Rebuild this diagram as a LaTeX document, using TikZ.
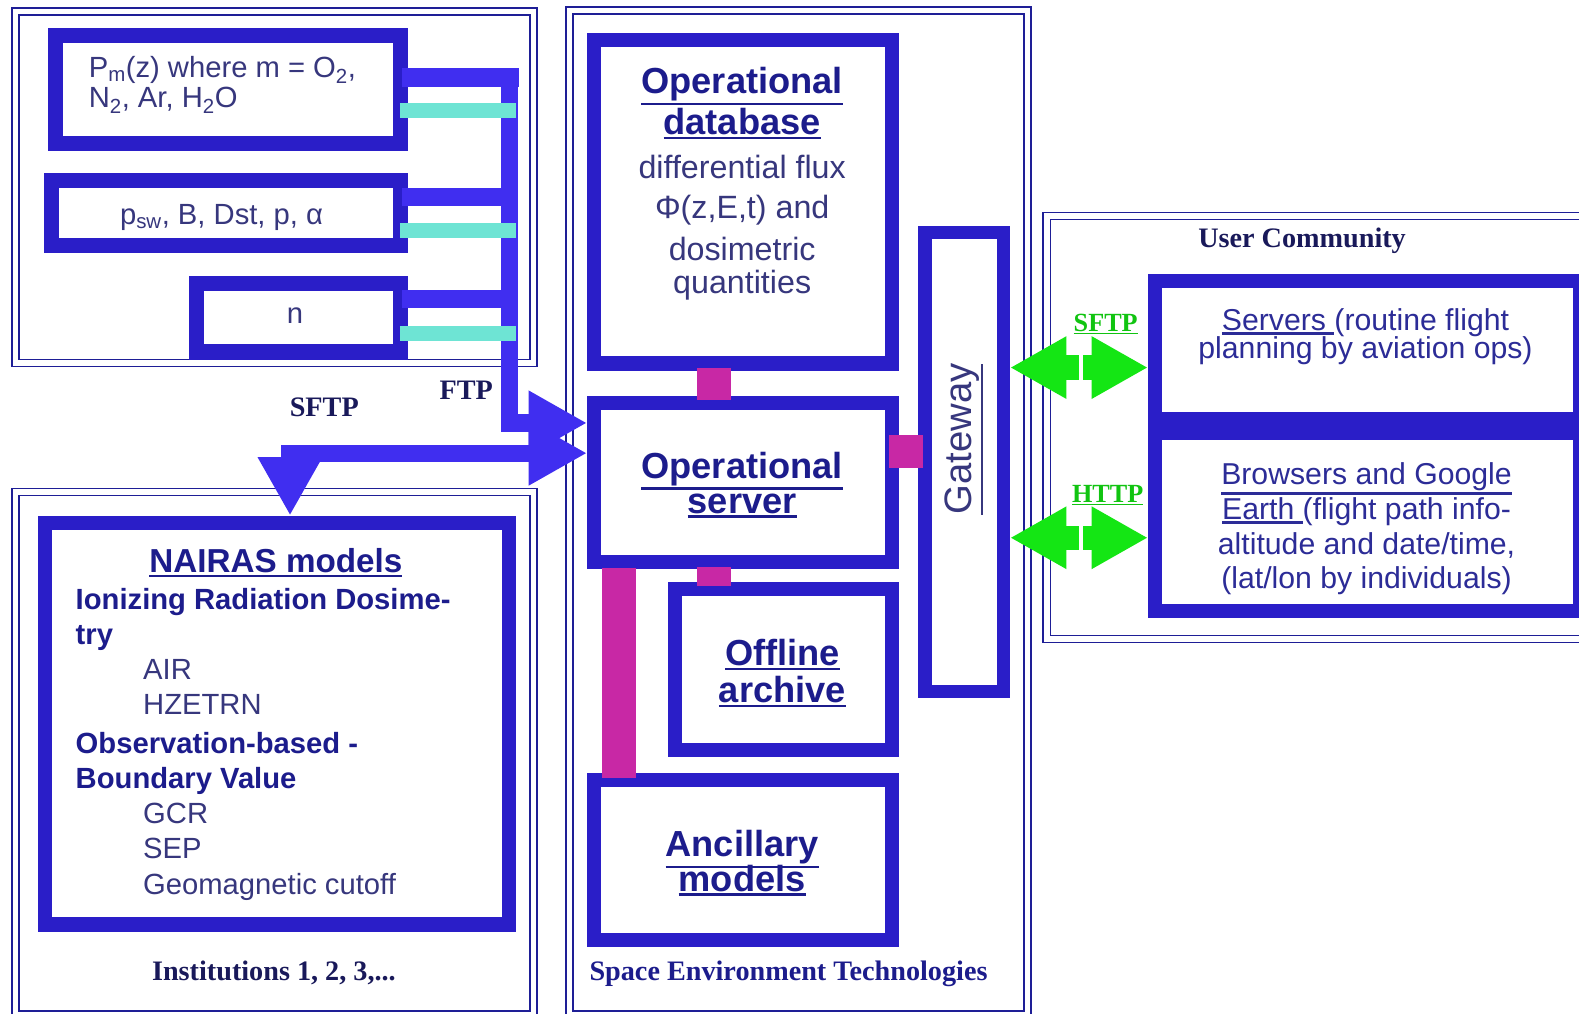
\documentclass[tikz,border=0pt]{standalone}
\usepackage{fontspec}
\setmainfont{Liberation Serif}
\newfontfamily\arial{Liberation Sans}
\usetikzlibrary{arrows.meta,calc}

\definecolor{boxblue}{RGB}{42,30,200}
\definecolor{arrblue}{RGB}{64,46,240}
\definecolor{frameblue}{RGB}{30,30,150}
\definecolor{magen}{RGB}{200,40,165}
\definecolor{cyanbar}{RGB}{110,228,212}
\definecolor{grn}{RGB}{20,230,20}
\definecolor{titlecol}{RGB}{28,28,140}
\definecolor{bodycol}{RGB}{55,55,125}
\definecolor{timescol}{RGB}{25,25,90}

\newcommand\fs[1]{\fontsize{#1}{#1}\selectfont}
\newcommand\ul[1]{\leavevmode\vtop{\hbox{#1}\kern1.5pt\hrule height 2.4pt}}
% name, x1, y1, x2, y2, line width
\newcommand\obox[6]{%
  \node[draw=boxblue, line width=#6pt, inner sep=0pt, outer sep={#6pt/2},
        minimum width={#4pt-#2pt-#6pt}, minimum height={#5pt-#3pt-#6pt}]
        (#1) at ({(#2+#4)/2},{(#3+#5)/2}) {};}
\newcommand\dframe[4]{%
  \draw[frameblue, line width=1.6pt] (#1,#2) rectangle (#3,#4);
  \draw[frameblue, line width=1.6pt] ({#1+7},{#2+7}) rectangle ({#3-7},{#4-7});}

\tikzset{
  ttl/.style={inner sep=0pt, anchor=base, text=titlecol, font=\arial\bfseries\fs{36}},
  bdy/.style={inner sep=0pt, anchor=base, text=bodycol, font=\arial\fs{32}},
  nai/.style={inner sep=0pt, anchor=base west, text=titlecol, font=\arial\bfseries\fs{29}},
  nair/.style={inner sep=0pt, anchor=base west, text=bodycol, font=\arial\fs{29}},
  usr/.style={inner sep=0pt, anchor=base, text=bodycol!80!blue, font=\arial\fs{30}},
  tms/.style={inner sep=0pt, anchor=base, text=timescol, font=\bfseries\fs{28}},
  gtms/.style={inner sep=0pt, anchor=base, text=grn!85!black, font=\bfseries\fs{26}},
  inp/.style={inner sep=0pt, text=bodycol, font=\arial\fs{29}},
  busline/.style={draw=arrblue, line width=18pt},
  cyanline/.style={draw=cyanbar, line width=15pt},
  bigarrow/.style={draw=arrblue, line width=17pt, -{Triangle[length=58pt,width=60pt]}},
  magline/.style={draw=magen, line width=34pt},
  grnarrow/.style={draw=grn, line width=24pt,
     {Triangle[length=56pt,width=58pt]}-{Triangle[length=56pt,width=58pt]}},
}

\begin{document}
\begin{tikzpicture}[x=1pt,y=-1pt]
\useasboundingbox (0,0) rectangle (1568,1006);
\fill[white] (0,0) rectangle (1568,1006);

% group frames
\dframe{12}{8}{533}{364}
\dframe{12}{485}{533}{1011}
\dframe{562}{7}{1024}{1011}
\dframe{1036}{211}{1582}{638}

% top-left input boxes
\obox{inA}{48}{28}{405}{150}{15}
\obox{inB}{44}{172}{405}{251}{15}
\obox{inC}{188}{274}{405}{357}{15}
\node[inp, anchor=base west, align=left] (tA1) at (88,77) {P\textsubscript{m}(z) where m = O\textsubscript{2},};
\node[inp, anchor=base west, align=left] (tA2) at (88,107) {N\textsubscript{2}, Ar, H\textsubscript{2}O};
\node[inp, anchor=base] (tB) at (220,223) {p\textsubscript{sw}, B, Dst, p, α};
\node[inp, anchor=base] (tC) at (293,321) {n};

% central boxes
\obox{db}{583}{33}{893}{368}{14}
\obox{serv}{583}{393}{893}{565}{14}
\obox{off}{663}{578}{893}{752}{14}
\obox{anc}{583}{768}{893}{940}{14}
\obox{gate}{912}{224}{1003}{693}{13}

\node[ttl] (db1) at (737,93) {\ul{Operational}};
\node[ttl] (db2) at (737,134) {\ul{database}};
\node[bdy] (db3) at (737,177) {differential flux};
\node[bdy] (db4) at (737,217) {Φ(z,E,t) and};
\node[bdy] (db5) at (737,259) {dosimetric};
\node[bdy] (db6) at (737,291) {quantities};

\node[ttl] (sv1) at (737,475) {\ul{Operational}};
\node[ttl] (sv2) at (737,510) {\ul{server}};
\node[ttl] (of1) at (777,661) {\ul{Offline}};
\node[ttl] (of2) at (777,698) {\ul{archive}};
\node[ttl] (an1) at (737,851) {\ul{Ancillary}};
\node[ttl] (an2) at (737,885) {\ul{models}};
\node[inner sep=0pt, rotate=90, text=bodycol, font=\arial\fs{38}] (gt) at (957,436) {\ul{Gateway}};

% NAIRAS
\obox{nairas}{38}{512}{512}{925}{14}
\node[ttl, font=\arial\bfseries\fs{33}] (n0) at (274,569) {\ul{NAIRAS models}};
\node[nai] (n1) at (75,605) {Ionizing Radiation Dosime-};
\node[nai] (n2) at (75,640) {try};
\node[nair] (n3) at (142,675) {AIR};
\node[nair] (n4) at (142,710) {HZETRN};
\node[nai] (n5) at (75,748) {Observation-based -};
\node[nai] (n6) at (75,783) {Boundary Value};
\node[nair] (n7) at (142,818) {GCR};
\node[nair] (n8) at (142,853) {SEP};
\node[nair] (n9) at (142,888) {Geomagnetic cutoff};

% user community
\obox{srv}{1140}{272}{1576}{423}{14}
\obox{brw}{1140}{423}{1576}{614}{14}
\node[usr] (s1) at (1356,328) {\ul{Servers\ }(routine flight};
\node[usr] (s2) at (1356,356) {planning by aviation ops)};
\node[usr] (b1) at (1357,481) {\ul{Browsers and Google}};
\node[usr] (b2) at (1357,516) {\ul{Earth\ }(flight path info-};
\node[usr] (b3) at (1357,551) {altitude and date/time,};
\node[usr] (b4) at (1357,584) {(lat/lon by individuals)};

% labels
\node[tms] (lsftp) at (322,414) {SFTP};
\node[tms] (lftp) at (463,397) {FTP};
\node[tms] (linst) at (272,974) {Institutions 1, 2, 3,...};
\node[tms, text=titlecol] (lset) at (783,974) {Space Environment Technologies};
\node[tms] (luser) at (1293,246) {User Community};
\node[gtms] (gsftp) at (1098,329) {\underline{SFTP}};
\node[gtms] (ghttp) at (1100,499) {\underline{HTTP}};

% input bus
\coordinate (bus) at (506,77);
\coordinate (ftpy) at (0,420);
\coordinate (sftpy) at (288,450);
\draw[busline] (inA.east |- bus) ++(-6,0) -- ($(bus)+(9,0)$);
\draw[busline] (inB.east |- 0,196) ++(-6,0) -- (bus |- 0,196);
\draw[busline] (inC.east |- 0,297) ++(-6,0) -- (bus |- 0,297);
\draw[bigarrow] ($(bus)+(0,-9)$) -- (bus |- ftpy) -- (serv.west |- ftpy);
\coordinate (cy) at (512,0);
\draw[cyanline] (inA.east |- 0,110) ++(-8,0) -- (cy |- 0,110);
\draw[cyanline] (inB.east |- 0,229) ++(-8,0) -- (cy |- 0,229);
\draw[cyanline] (inC.east |- 0,331) ++(-8,0) -- (cy |- 0,331);

% SFTP double arrow
\draw[draw=arrblue, line width=17pt, {Triangle[length=58pt,width=60pt]}-{Triangle[length=58pt,width=60pt]}]
  (nairas.north -| sftpy) |- (serv.west |- sftpy);

% magenta links
\coordinate (m1) at (709,0);
\coordinate (m2) at (615,0);
\draw[magline] ($(db.south -| m1)+(0,-3)$) -- ($(serv.north -| m1)+(0,4)$);
\draw[magline] ($(serv.south -| m1)+(0,-2)$) -- ($(off.north -| m1)+(0,4)$);
\draw[magline] ($(serv.south -| m2)+(0,-1)$) -- ($(anc.north -| m2)+(0,5)$);
\draw[magline, line width=33pt] ($(serv.east |- 0,448)+(-10,0)$) -- ($(gate.west |- 0,448)+(5,0)$);

% green links
\coordinate (g1) at (0,365);
\coordinate (g2) at (0,534);
\draw[grnarrow] (gate.east |- g1) -- (srv.west |- g1);
\draw[grnarrow] (gate.east |- g2) -- (brw.west |- g2);
\coordinate (gm) at (1073,0);
\draw[white, line width=4pt] ($(gm |- g1)+(0,-14)$) -- ($(gm |- g1)+(0,14)$);
\draw[white, line width=4pt] ($(gm |- g2)+(0,-14)$) -- ($(gm |- g2)+(0,14)$);
\end{tikzpicture}
\end{document}
